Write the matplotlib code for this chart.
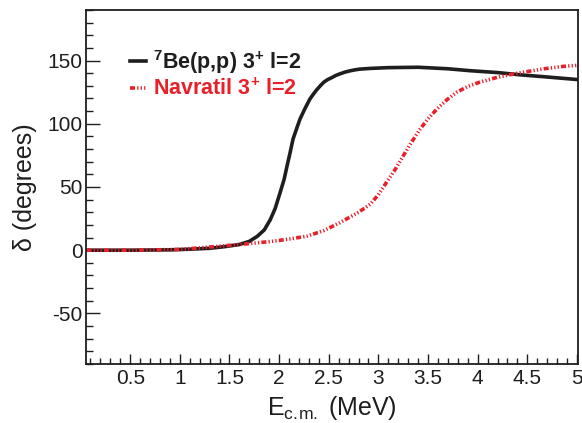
import matplotlib
matplotlib.use("Agg")
import matplotlib.pyplot as plt
from matplotlib.ticker import MultipleLocator

# fonts: Helvetica-like everywhere, also inside mathtext
plt.rcParams['font.family'] = ['Liberation Sans', 'DejaVu Sans']
plt.rcParams['mathtext.fontset'] = 'custom'
plt.rcParams['mathtext.rm'] = 'Liberation Sans'
plt.rcParams['mathtext.it'] = 'Liberation Sans:italic'
plt.rcParams['mathtext.bf'] = 'Liberation Sans:bold'
plt.rcParams['axes.unicode_minus'] = False

# 7Be(p,p) fit, 3+ l=2 phase shift
e_fit = [0.06, 0.5, 0.9, 1.1, 1.3, 1.45, 1.6, 1.7, 1.78, 1.85, 1.91, 1.96,
         2.01, 2.05, 2.08, 2.11, 2.14, 2.18, 2.21, 2.26, 2.31, 2.35, 2.38,
         2.42, 2.45, 2.49, 2.53, 2.57, 2.61, 2.66, 2.71, 2.76, 2.81, 2.92,
         3.1, 3.4, 3.7, 3.92, 4.2, 4.43, 4.7, 5.0]
d_fit = [0, 0, 0.3, 0.8, 1.5, 2.8, 4.5, 7, 11, 16, 24, 33,
         45.6, 56, 66.7, 77, 87.9, 97, 103.7, 112, 119.6, 124, 127,
         130.5, 132.9, 135, 136.5, 138.2, 139.4, 140.8, 141.8, 142.6, 143.2,
         143.8, 144.4, 144.7, 143.5, 142, 140.5, 138.7, 137, 135]

# Navratil calculation
e_nav = [0.06, 0.5, 1.0, 1.3, 1.6, 1.8, 1.94, 2.1, 2.28, 2.45, 2.61, 2.72,
         2.8, 2.92, 3.0, 3.08, 3.17, 3.25, 3.33, 3.42, 3.5, 3.59, 3.69, 3.79,
         3.9, 4.02, 4.2, 4.36, 4.5, 4.66, 4.85, 5.0]
d_nav = [0, 0, 0.6, 2.5, 4.5, 6, 7.1, 8.8, 11.1, 15.5, 21.7, 26.5,
         30, 36.5, 44, 53.5, 64, 74.6, 85, 95.8, 104, 111.7, 119, 125,
         129.5, 132.9, 136.8, 139.4, 141.3, 143.4, 145.3, 146.2]

lbl_fit = r'$^{\mathbf{7}}$Be(p,p) 3$^{\mathbf{+}}$ l=2'
lbl_nav = r'Navratil 3$^{\mathbf{+}}$ l=2'

red = '#e8202a'
ink = '#1e1e1e'

fig = plt.figure(figsize=(5.82, 4.23), dpi=100)
ax = fig.add_axes([0.1478, 0.1395, 0.8453, 0.8369])

ax.plot(e_fit, d_fit, color=ink, lw=2.6, label=lbl_fit)
ax.plot(e_nav, d_nav, color=red, lw=2.6,
        linestyle=(0, (1.4, 0.6, 0.35, 0.6, 0.35, 0.6, 0.35, 0.6)),
        label=lbl_nav)

ax.set_xlim(0.055, 5.01)
ax.set_ylim(-90, 190)

ax.xaxis.set_major_locator(MultipleLocator(0.5))
ax.xaxis.set_minor_locator(MultipleLocator(0.1))
ax.yaxis.set_major_locator(MultipleLocator(50))
ax.yaxis.set_minor_locator(MultipleLocator(10))
ax.xaxis.set_major_formatter(plt.FuncFormatter(lambda v, p: '%g' % v))

ax.tick_params(which='both', direction='in', top=False, right=False,
               labelsize=15, colors=ink, width=1.0)
ax.tick_params(axis='x', which='major', length=7.2, pad=3.5)
ax.tick_params(axis='x', which='minor', length=4)
ax.tick_params(axis='y', which='major', length=10, pad=2.5)
ax.tick_params(axis='y', which='minor', length=5)
for s in ax.spines.values():
    s.set_linewidth(1.3)
    s.set_color(ink)

# \! cancels the thin space mathtext puts after the dot
ax.set_xlabel(r'E$_{\mathrm{c.\!m.}}$ (MeV)', fontsize=18, color=ink)
ax.set_ylabel('δ (degrees)', fontsize=18, color=ink)
ax.xaxis.set_label_coords(0.5, -0.084)
ax.yaxis.set_label_coords(-0.10, 0.5)

leg = ax.legend(loc='upper left', bbox_to_anchor=(0.089, 0.893),
                frameon=False, handlelength=0.75, handletextpad=0.33,
                labelspacing=0.15, borderpad=0, borderaxespad=0,
                prop={'size': 15.5, 'weight': 'bold'})
leg.get_texts()[0].set_color(ink)
leg.get_texts()[1].set_color(red)

fig.savefig('out.png', dpi=100)
